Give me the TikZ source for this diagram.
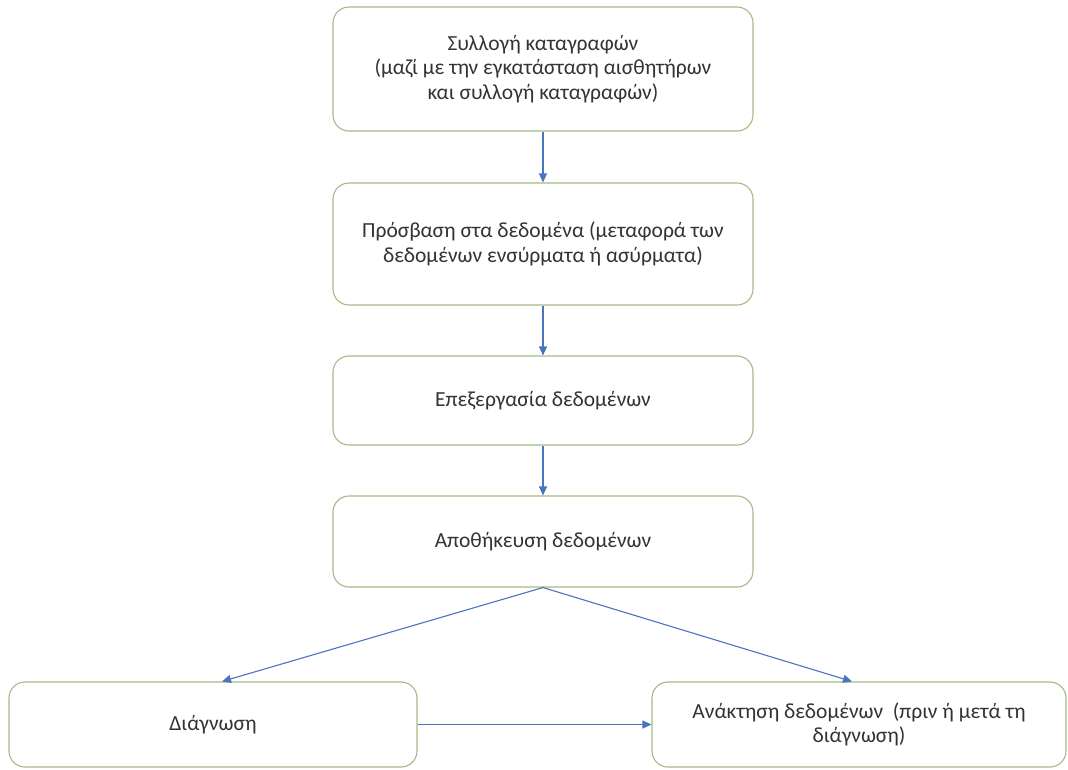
\documentclass[tikz,border=0pt]{standalone}
\usepackage{fontspec}
\setmainfont{Carlito}
\usetikzlibrary{arrows.meta,calc}
\definecolor{boxline}{HTML}{A3BC86}
\definecolor{flowblue}{HTML}{4A74BE}
\tikzset{
  stepbox/.style={draw=boxline, line width=1.1pt, fill=white, rounded corners=16pt,
    align=center, font=\fontsize{21.5}{24.5}\selectfont, text=black!80, inner sep=0pt},
  flow/.style={draw=flowblue, line width=1.1pt, -{Triangle[length=9pt,width=8pt]}}
}
\begin{document}
\begin{tikzpicture}[x=1pt,y=-1pt]
  \useasboundingbox[fill=white] (0,0) rectangle (1068,769);

  % main chain of processing steps
  \node[stepbox, minimum width=420pt, minimum height=124pt] (collect) at (543,69)
    {Συλλογή καταγραφών\\(μαζί με την εγκατάσταση αισθητήρων\\και συλλογή καταγραφών)};
  \node[stepbox, minimum width=420pt, minimum height=122pt] (access) at (543,244)
    {Πρόσβαση στα δεδομένα (μεταφορά των\\δεδομένων ενσύρματα ή ασύρματα)};
  \node[stepbox, minimum width=420pt, minimum height=89pt] (process) at (543,400.5)
    {Επεξεργασία δεδομένων};
  \node[stepbox, minimum width=420pt, minimum height=91pt] (store) at (543,541.5)
    {Αποθήκευση δεδομένων};

  % the two outcomes
  \node[stepbox, minimum width=408pt, minimum height=85pt] (diag) at (213,724.5)
    {Διάγνωση};
  \node[stepbox, minimum width=414pt, minimum height=85pt] (recover) at (859,724.5)
    {Ανάκτηση δεδομένων~ (πριν ή μετά τη\\διάγνωση)};

  % connectors
  \draw[flow] (collect) -- (access);
  \draw[flow] (access) -- (process);
  \draw[flow] (process) -- (store);
  \draw[flow] (store.south) -- ([xshift=9pt]diag.north);
  \draw[flow] (store.south) -- ([xshift=-7pt]recover.north);
  \draw[flow] (diag) -- (recover);
\end{tikzpicture}
\end{document}
